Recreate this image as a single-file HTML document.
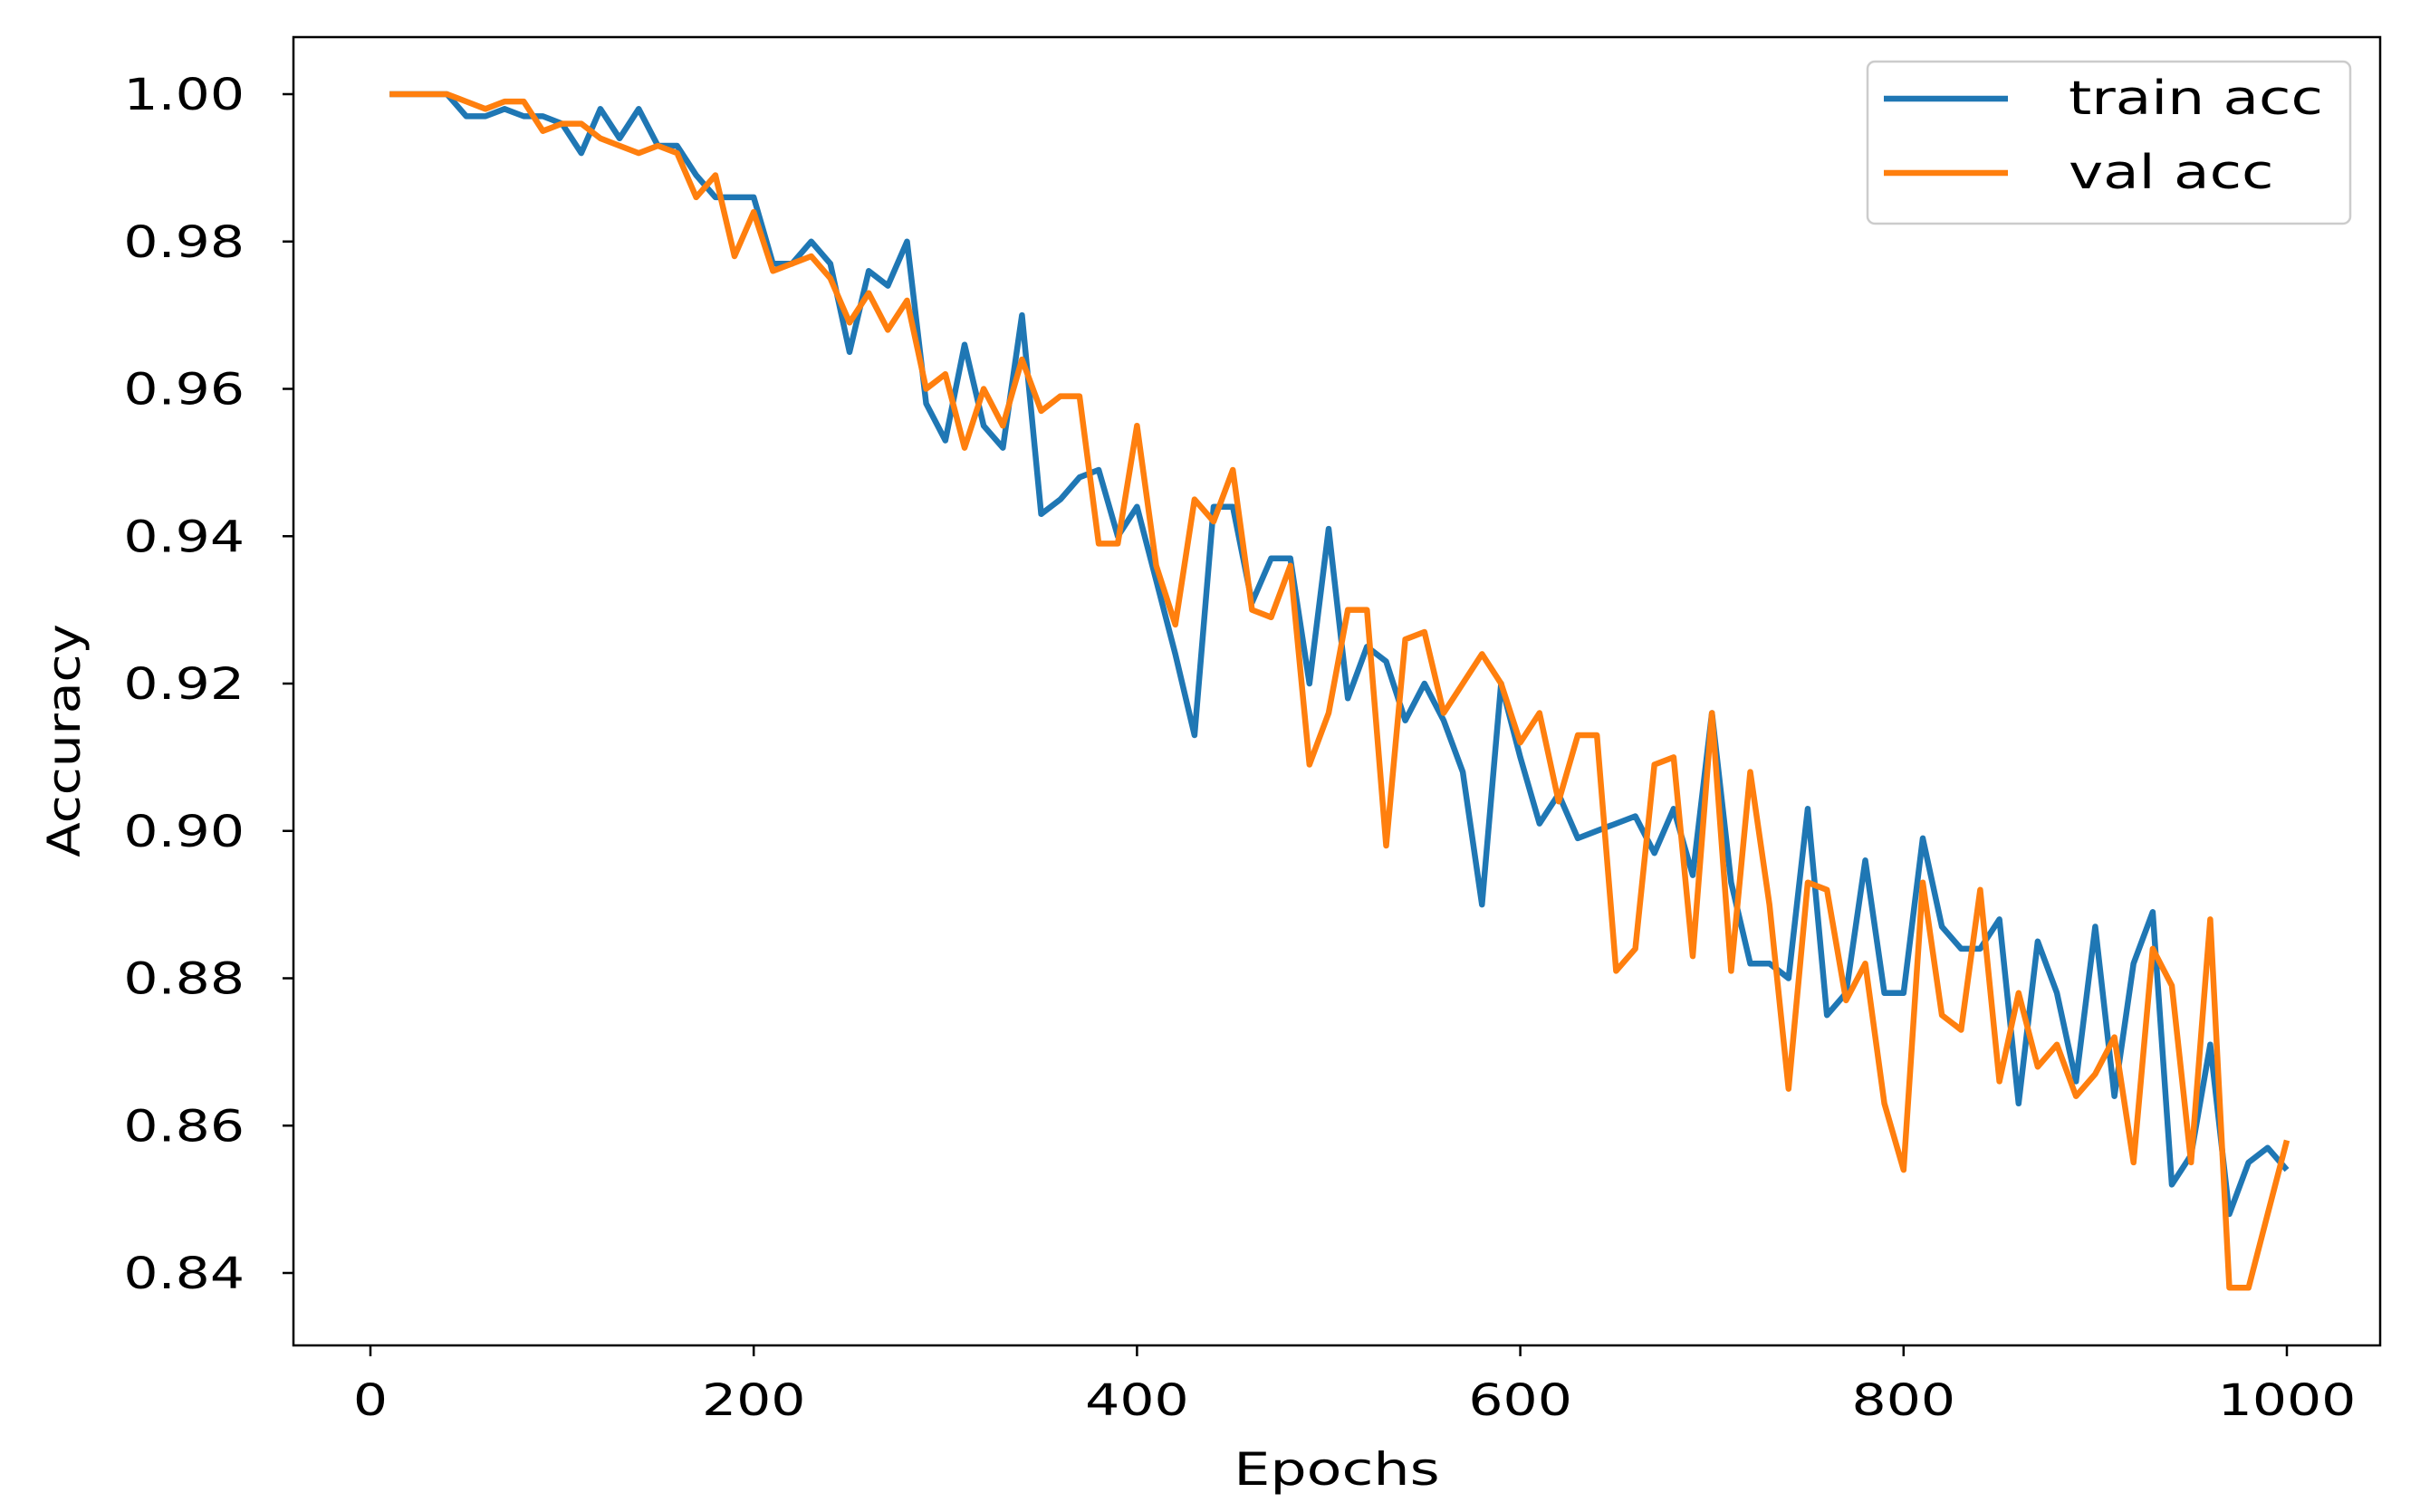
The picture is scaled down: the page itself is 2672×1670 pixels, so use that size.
<!DOCTYPE html>
<html><head><meta charset="utf-8"><style>
html,body{margin:0;padding:0;background:#fff;}
svg{display:block;font-family:"DejaVu Sans","Liberation Sans",sans-serif;}
</style></head><body>
<svg id="chart" width="2672" height="1670" viewBox="0 0 2672 1670" xmlns="http://www.w3.org/2000/svg">
<rect x="0" y="0" width="2672" height="1670" fill="#fff"/>
<g id="series"></g>
<rect x="324" y="41" width="2304" height="1445" fill="none" stroke="#000" stroke-width="2.5"/>
<g id="axes"></g>
<text transform="translate(1476,1640) scale(1.27,1)" font-size="50" text-anchor="middle" fill="#000">Epochs</text>
<text transform="translate(88,818) rotate(-90) scale(1.13,1)" font-size="50" text-anchor="middle" fill="#000">Accuracy</text>
<g>
<rect x="2062" y="68" width="533" height="179" rx="8" fill="#fff" fill-opacity="0.8" stroke="#ccc" stroke-width="2.5"/>
<line x1="2080" y1="109" x2="2217" y2="109" stroke="#1f77b4" stroke-width="6.5"/>
<text transform="translate(2284,126) scale(1.24,1)" font-size="52" fill="#000">train acc</text>
<line x1="2080" y1="191" x2="2217" y2="191" stroke="#ff7f0e" stroke-width="6.5"/>
<text transform="translate(2284,208) scale(1.24,1)" font-size="52" fill="#000">val acc</text>
</g>
</svg>
<script>
const epochs = [];
for (let e = 10; e <= 1000; e += 10) epochs.push(e);
const trainAcc = [1.000,1.000,1.000,1.000,0.997,0.997,0.998,0.997,0.997,0.996,0.992,0.998,0.994,0.998,0.993,0.993,0.989,0.986,0.986,0.986,0.977,0.977,0.980,0.977,0.965,0.976,0.974,0.980,0.958,0.953,0.966,0.955,0.952,0.970,0.943,0.945,0.948,0.949,0.940,0.944,0.934,0.924,0.913,0.944,0.944,0.931,0.937,0.937,0.920,0.941,0.918,0.925,0.923,0.915,0.920,0.915,0.908,0.890,0.920,0.910,0.901,0.905,0.899,0.900,0.901,0.902,0.897,0.903,0.894,0.916,0.893,0.882,0.882,0.880,0.903,0.875,0.878,0.896,0.878,0.878,0.899,0.887,0.884,0.884,0.888,0.863,0.885,0.878,0.866,0.887,0.864,0.882,0.889,0.852,0.856,0.871,0.848,0.855,0.857,0.854];
const valAcc = [1.000,1.000,1.000,1.000,0.999,0.998,0.999,0.999,0.995,0.996,0.996,0.994,0.993,0.992,0.993,0.992,0.986,0.989,0.978,0.984,0.976,0.977,0.978,0.975,0.969,0.973,0.968,0.972,0.960,0.962,0.952,0.960,0.955,0.964,0.957,0.959,0.959,0.939,0.939,0.955,0.936,0.928,0.945,0.942,0.949,0.930,0.929,0.936,0.909,0.916,0.930,0.930,0.898,0.926,0.927,0.916,0.920,0.924,0.920,0.912,0.916,0.904,0.913,0.913,0.881,0.884,0.909,0.910,0.883,0.916,0.881,0.908,0.890,0.865,0.893,0.892,0.877,0.882,0.863,0.854,0.893,0.875,0.873,0.892,0.866,0.878,0.868,0.871,0.864,0.867,0.872,0.855,0.884,0.879,0.855,0.888,0.838,0.838,0.848,0.858];
const xTicks = [0,200,400,600,800,1000];
const yTicks = [0.84,0.86,0.88,0.90,0.92,0.94,0.96,0.98,1.00];
const yTickLabels = ["0.84","0.86","0.88","0.90","0.92","0.94","0.96","0.98","1.00"];

const NS = "http://www.w3.org/2000/svg";
function xs(v){ return 409 + (v - 0) * (2525 - 409) / 1000; }
function ys(v){ return 104 + (1.00 - v) * (1406 - 104) / 0.16; }

const axes = document.getElementById('axes');
xTicks.forEach(t => {
  const l = document.createElementNS(NS,'line');
  
  
  l.setAttribute('x1',xs(t)); l.setAttribute('x2',xs(t));
  l.setAttribute('y1',1486); l.setAttribute('y2',1498);
  l.setAttribute('stroke','#000'); l.setAttribute('stroke-width','2.5');
  axes.appendChild(l);
  const tx = document.createElementNS(NS,'text');
  
  
  tx.setAttribute('transform','translate('+xs(t)+',1563) scale(1.25,1)');
  tx.setAttribute('font-size','48'); tx.setAttribute('text-anchor','middle');
  tx.textContent = String(t);
  axes.appendChild(tx);
});
yTicks.forEach((t,i) => {
  const l = document.createElementNS(NS,'line');
  
  
  l.setAttribute('x1',312); l.setAttribute('x2',324);
  l.setAttribute('y1',ys(t)); l.setAttribute('y2',ys(t));
  l.setAttribute('stroke','#000'); l.setAttribute('stroke-width','2.5');
  axes.appendChild(l);
  const tx = document.createElementNS(NS,'text');
  
  
  tx.setAttribute('transform','translate(270,'+(ys(t)+17)+') scale(1.25,1)');
  tx.setAttribute('font-size','48'); tx.setAttribute('text-anchor','end');
  tx.textContent = yTickLabels[i];
  axes.appendChild(tx);
});

const series = document.getElementById('series');
function drawLine(vals, color, name){
  const p = document.createElementNS(NS,'polyline');
  
  
  p.setAttribute('points', vals.map((v,i)=>xs(epochs[i]).toFixed(1)+','+ys(v).toFixed(1)).join(' '));
  p.setAttribute('fill','none'); p.setAttribute('stroke',color);
  p.setAttribute('stroke-width','6.5'); p.setAttribute('stroke-linejoin','round');
  series.appendChild(p);
}
drawLine(trainAcc,'#1f77b4','train-acc-line');
drawLine(valAcc,'#ff7f0e','val-acc-line');
</script>
</body></html>
